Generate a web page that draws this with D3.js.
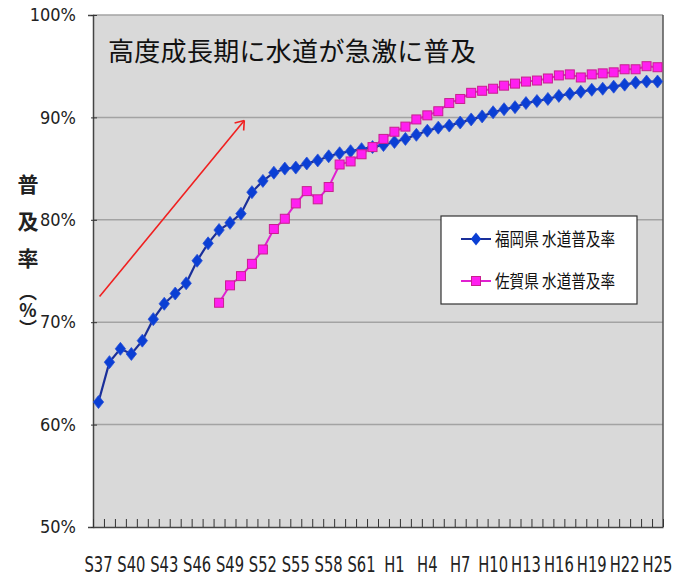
<!DOCTYPE html>
<html><head><meta charset="utf-8">
<script src="https://cdn.jsdelivr.net/npm/d3@7"></script>
<style>
html,body{margin:0;padding:0;background:#fff;}
svg{display:block;}
</style></head>
<body>
<svg id="chart" width="689" height="576"></svg>
<script>
const categories = ["S37","S38","S39","S40","S41","S42","S43","S44","S45","S46","S47","S48","S49","S50","S51","S52","S53","S54","S55","S56","S57","S58","S59","S60","S61","S62","S63",
  "H1","H2","H3","H4","H5","H6","H7","H8","H9","H10","H11","H12","H13","H14","H15","H16","H17","H18","H19","H20","H21","H22","H23","H24","H25"];
const tickLabels = ["S37","S40","S43","S46","S49","S52","S55","S58","S61","H1","H4","H7","H10","H13","H16","H19","H22","H25"];
const yTicks = [50,60,70,80,90,100];

const fukuokaName = "福岡県 水道普及率";
const fukuokaValues = [62.2,66.1,67.4,66.9,68.2,70.3,71.8,72.8,73.8,76.0,77.7,79.0,79.7,80.6,82.7,83.8,84.6,85.0,85.1,85.5,85.8,86.2,86.5,86.7,86.9,87.1,87.3,
  87.6,87.9,88.3,88.7,89.0,89.2,89.5,89.8,90.1,90.5,90.8,91.0,91.4,91.6,91.8,92.1,92.3,92.5,92.7,92.8,93.0,93.2,93.4,93.5,93.5];

const sagaName = "佐賀県 水道普及率";
const sagaStart = "S48";
const sagaValues = [71.9,73.6,74.5,75.7,77.1,79.1,80.1,81.6,82.8,82.0,83.2,85.4,85.7,86.4,87.1,87.9,
  88.6,89.1,89.8,90.2,90.6,91.4,91.8,92.4,92.6,92.8,93.1,93.3,93.5,93.6,93.8,94.1,94.2,93.9,94.2,94.3,94.4,94.7,94.7,95.0,94.9];

const titleText = "高度成長期に水道が急激に普及";
const yAxisTitleMain = "普及率";
const yAxisTitleUnit = "（%）";
// arrow annotation in data coordinates (category index, percent)
const arrowFrom = [0.6, 72.5];
const arrowTo = [13.8, 89.7];

const svg = d3.select("#chart");
const L = 93, R = 663, T = 15, B = 527;

const x = d3.scaleBand().domain(categories).range([L, R]).padding(0);
const xi = d3.scaleLinear().domain([0, categories.length]).range([L, R]);
const y = d3.scaleLinear().domain([50, 100]).range([B, T]);
const cx = c => x(c) + x.bandwidth() / 2;

// plot background
svg.append("rect").attr("x", L).attr("y", T).attr("width", R - L).attr("height", B - T)
  .attr("fill", "#d9d9d9");

// gridlines
svg.append("g").selectAll("line").data(yTicks.filter(v => v > 50)).join("line")
  .attr("x1", L).attr("x2", R).attr("y1", d => y(d)).attr("y2", d => y(d))
  .attr("stroke", "#a3a3a3").attr("stroke-width", 1.5);

// right border
svg.append("line").attr("x1", R).attr("x2", R).attr("y1", T).attr("y2", B)
  .attr("stroke", "#555").attr("stroke-width", 1.5);

const labelFont = "'Liberation Sans Narrow','DejaVu Sans Condensed','Liberation Sans',sans-serif";

// y axis
const yAxis = svg.append("g").attr("transform", `translate(${L},0)`)
  .call(d3.axisLeft(y).tickValues(yTicks).tickFormat(d => d + "%").tickSize(5).tickPadding(12));
yAxis.select(".domain").attr("stroke", "#444").attr("stroke-width", 1.5);
yAxis.selectAll(".tick line").attr("stroke", "#333").attr("x2", 4).attr("x1", -2);
yAxis.selectAll(".tick text").attr("font-family", labelFont).attr("font-size", 18).attr("fill", "#222");

// x axis tick marks at category boundaries
const xTickAxis = svg.append("g").attr("transform", `translate(0,${B})`)
  .call(d3.axisBottom(xi).tickValues(d3.range(0, categories.length + 1)).tickFormat("").tickSize(-8).tickSizeOuter(0));
xTickAxis.select(".domain").attr("stroke", "#444").attr("stroke-width", 1.5);
xTickAxis.selectAll(".tick line").attr("stroke", "#333");

// x labels
const xLab = svg.append("g").attr("transform", `translate(0,${B})`)
  .call(d3.axisBottom(x).tickValues(tickLabels).tickSize(0).tickPadding(30));
xLab.select(".domain").remove();
xLab.selectAll(".tick text").attr("font-family", labelFont).attr("font-size", 21).attr("fill", "#222")
  .attr("transform", "scale(0.78,1)");

// lines
const fukuokaData = categories.map((c, i) => ({c, v: fukuokaValues[i]}));
const si = categories.indexOf(sagaStart);
const sagaData = sagaValues.map((v, i) => ({c: categories[si + i], v}));
const line = d3.line().x(d => cx(d.c)).y(d => y(d.v));

svg.append("path").datum(sagaData).attr("d", line).attr("fill", "none")
  .attr("stroke", "#e020d0").attr("stroke-width", 2);
svg.append("path").datum(fukuokaData).attr("d", line).attr("fill", "none")
  .attr("stroke", "#1a2f9a").attr("stroke-width", 2.2);

const diamond = (px, py) => `M${px},${py-6.5}L${px+5.2},${py}L${px},${py+6.5}L${px-5.2},${py}Z`;
svg.append("g").selectAll("path").data(fukuokaData).join("path")
  .attr("d", d => diamond(cx(d.c), y(d.v))).attr("fill", "#0b3fd4").attr("stroke", "#2a52d8").attr("stroke-width", 0.8);
svg.append("g").selectAll("rect").data(sagaData).join("rect")
  .attr("x", d => cx(d.c) - 4.5).attr("y", d => y(d.v) - 4.5).attr("width", 9).attr("height", 9)
  .attr("fill", "#ff1ff0").attr("stroke", "#c8208f").attr("stroke-width", 1);

// title
svg.append("text").attr("x", 108).attr("y", 61).text(titleText)
  .attr("font-family", "'Noto Sans CJK JP',sans-serif").attr("font-size", 26)
  .attr("letter-spacing", 0.3).attr("fill", "#111");

// arrow
const ax1 = xi(arrowFrom[0]), ay1 = y(arrowFrom[1]), ax2 = xi(arrowTo[0]), ay2 = y(arrowTo[1]);
svg.append("line").attr("x1", ax1).attr("y1", ay1).attr("x2", ax2).attr("y2", ay2)
  .attr("stroke", "#f02020").attr("stroke-width", 1.6);
const ang = Math.atan2(ay2 - ay1, ax2 - ax1);
[ang + Math.PI * 0.8, ang - Math.PI * 0.8].forEach(a => {
  svg.append("line").attr("x1", ax2).attr("y1", ay2)
    .attr("x2", ax2 + 10 * Math.cos(a)).attr("y2", ay2 + 10 * Math.sin(a))
    .attr("stroke", "#f02020").attr("stroke-width", 1.6);
});

// y axis title (vertical writing)
svg.append("text").attr("x", 28).attr("y", 174)
  .style("writing-mode", "vertical-rl").style("text-orientation", "upright")
  .attr("font-family", "'Noto Sans CJK JP',sans-serif").attr("font-weight", "bold").attr("fill", "#222")
  .attr("font-size", 21).attr("letter-spacing", 16).text(yAxisTitleMain);
svg.append("text").attr("x", 28).attr("y", 283)
  .style("writing-mode", "vertical-rl").style("text-orientation", "upright")
  .attr("font-family", "'Noto Sans CJK JP',sans-serif").attr("font-weight", "bold").attr("fill", "#222")
  .attr("font-size", 18).text(yAxisTitleUnit);

// legend
const lg = svg.append("g");
lg.append("rect").attr("x", 441).attr("y", 216).attr("width", 196).attr("height", 88)
  .attr("fill", "#fff").attr("stroke", "#333").attr("stroke-width", 1.2);
const legendItems = [
  {name: fukuokaName, color: "#1a2f9a", mk: "diamond", yy: 239},
  {name: sagaName, color: "#e020d0", mk: "square", yy: 281}
];
legendItems.forEach(it => {
  lg.append("line").attr("x1", 461).attr("x2", 491).attr("y1", it.yy).attr("y2", it.yy)
    .attr("stroke", it.color).attr("stroke-width", 2);
  if (it.mk === "diamond") lg.append("path").attr("d", diamond(476, it.yy)).attr("fill", "#0b3fd4");
  else lg.append("rect").attr("x", 471.5).attr("y", it.yy - 4.5).attr("width", 9).attr("height", 9)
    .attr("fill", "#ff1ff0").attr("stroke", "#c8208f");
  lg.append("text").attr("x", 495).attr("y", it.yy + 7).text(it.name)
    .attr("font-family", "'Noto Sans CJK JP',sans-serif").attr("font-size", 18).attr("fill", "#111")
    .attr("textLength", 120).attr("lengthAdjust", "spacingAndGlyphs");
});
</script>
</body></html>
